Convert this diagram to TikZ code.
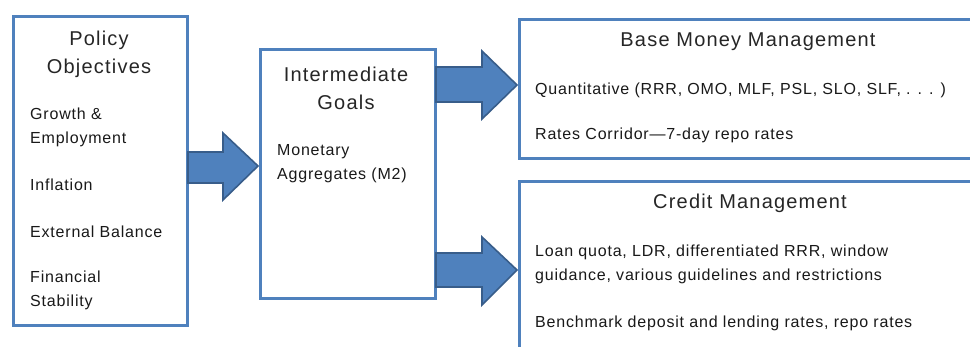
\documentclass[tikz,border=0pt]{standalone}
\usepackage{fontspec}
\setmainfont{Liberation Sans}
\newfontfamily\titlefont[LetterSpace=6]{Liberation Sans}
\newfontfamily\bodyfont[LetterSpace=5]{Liberation Sans}
\definecolor{boxblue}{RGB}{79,129,189}
\definecolor{arrowfill}{RGB}{79,129,189}
\definecolor{arrowline}{RGB}{56,93,138}
\begin{document}
\begin{tikzpicture}[x=1pt,y=-1pt,
  panel/.style={draw=boxblue,line width=3pt,fill=white,inner sep=0pt},
  blockarrow/.style={draw=arrowline,line width=1.6pt,fill=arrowfill,line join=miter},
  title/.style={font=\titlefont\fontsize{20}{28}\selectfont,text=black!85,align=center,inner sep=0pt},
  body/.style={font=\bodyfont\fontsize{16}{24}\selectfont,text=black!90,anchor=west,inner sep=0pt,align=left}]
\useasboundingbox (0,0) rectangle (970,347);
% panels
\node[panel,minimum width=174pt,minimum height=309pt,anchor=north west] (po) at (12,15) {};
\node[panel,minimum width=175pt,minimum height=249pt,anchor=north west] (ig) at (259,48) {};
\node[panel,minimum width=480pt,minimum height=139pt,anchor=north west] (bm) at (518,18) {};
\node[panel,minimum width=480pt,minimum height=200pt,anchor=north west] (cm) at (518,180) {};
% arrows
\draw[blockarrow] (188,152) -- (223,152) -- (223,133) -- (258,166) -- (223,200) -- (223,183) -- (188,183) -- cycle;
\draw[blockarrow] (436,67) -- (482,67) -- (482,51) -- (517,85) -- (482,119) -- (482,102) -- (436,102) -- cycle;
\draw[blockarrow] (436,253) -- (482,253) -- (482,237) -- (517,270) -- (482,305) -- (482,287) -- (436,287) -- cycle;
% texts policy
\node[title] (pot) at (99,54) {Policy\\Objectives};
\node[body] (po1) at (30,127) {Growth \&\\Employment};
\node[body] (po2) at (30,185) {Inflation};
\node[body] (po3) at (30,232) {External Balance};
\node[body] (po4) at (30,290) {Financial\\Stability};
% intermediate
\node[title] (igt) at (346,88) {Intermediate\\Goals};
\node[body] (ig1) at (277,164) {Monetary\\Aggregates (M2)};
% base money
\node[title] (bmt) at (748,42) {Base Money Management};
\node[body] (bm1) at (535,90) {Quantitative (RRR, OMO, MLF, PSL, SLO, SLF, . . . )};
\node[body] (bm2) at (535,135) {Rates Corridor—7-day repo rates};
% credit
\node[title] (cmt) at (750,203) {Credit Management};
\node[body] (cm1) at (535,264) {Loan quota, LDR, differentiated RRR, window\\guidance, various guidelines and restrictions};
\node[body] (cm2) at (535,323) {Benchmark deposit and lending rates, repo rates};
\end{tikzpicture}
\end{document}
